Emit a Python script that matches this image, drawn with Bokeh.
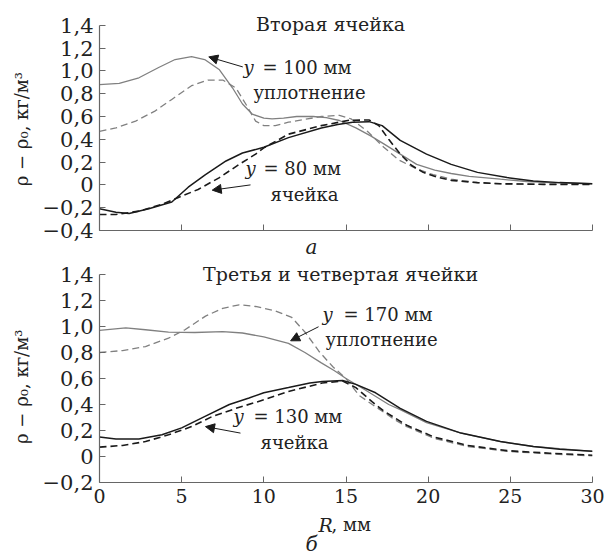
from bokeh.plotting import figure
from bokeh.models import Range1d, FixedTicker, Label, Arrow, NormalHead, Title
from bokeh.layouts import column
from bokeh.embed import file_html
from bokeh.resources import INLINE

# ---------------- data ----------------
x_ticks = [0, 5, 10, 15, 20, 25, 30]
x_tick_labels = ["0", "5", "10", "15", "20", "25", "30"]

ya_ticks = [-0.4, -0.2, 0.0, 0.2, 0.4, 0.6, 0.8, 1.0, 1.2, 1.4]
ya_tick_labels = ["\u22120,4", "\u22120,2", "0", "0,2", "0,4", "0,6", "0,8", "1,0", "1,2", "1,4"]
yb_ticks = [-0.2, 0.0, 0.2, 0.4, 0.6, 0.8, 1.0, 1.2, 1.4]
yb_tick_labels = ["\u22120,2", "0", "0,2", "0,4", "0,6", "0,8", "1,0", "1,2", "1,4"]

# panel a: y = 100 mm (compaction), solid and dashed
a100_solid_R = [0, 1.2, 2.4, 3.6, 4.6, 5.6, 6.4, 7.3, 8.1, 8.7, 9.3, 10, 10.5, 11.2, 12, 13, 13.8, 14.6,
                15.6, 16.5, 17.3, 18.3, 19.3, 20.4, 21.4, 22.5, 24.4, 26, 27.4, 30]
a100_solid_v = [0.88, 0.89, 0.94, 1.03, 1.10, 1.125, 1.10, 1.01, 0.85, 0.71, 0.62, 0.585, 0.58, 0.585, 0.60,
                0.60, 0.59, 0.565, 0.50, 0.43, 0.36, 0.27, 0.18, 0.13, 0.10, 0.075, 0.05, 0.03, 0.02, 0.01]
a100_dash_R = [0, 1.0, 2.2, 3.4, 4.4, 5.6, 6.6, 7.5, 8.3, 8.9, 9.5, 10, 10.7, 11.5, 12.5, 13.5, 14.6, 15.3,
               16.3, 17.3, 18.2, 19.3, 20.3, 21.4, 23, 24.4, 27, 30]
a100_dash_v = [0.47, 0.50, 0.56, 0.65, 0.75, 0.87, 0.92, 0.92, 0.85, 0.71, 0.56, 0.52, 0.52, 0.55, 0.575,
               0.60, 0.61, 0.58, 0.47, 0.33, 0.22, 0.14, 0.09, 0.05, 0.02, 0.01, 0.005, 0.005]
# panel a: y = 80 mm (cell), solid and dashed
a80_solid_R = [0, 1.0, 1.8, 3.0, 4.4, 5.4, 6.45, 7.7, 8.7, 10, 11.5, 13.5, 14.5, 15.4, 16.4, 17.2, 18.3,
               19.9, 21.4, 23, 24.8, 26.4, 28, 30]
a80_solid_v = [-0.21, -0.24, -0.25, -0.21, -0.15, -0.02, 0.09, 0.21, 0.28, 0.33, 0.415, 0.50, 0.53, 0.55,
               0.555, 0.52, 0.39, 0.27, 0.18, 0.11, 0.064, 0.035, 0.02, 0.01]
a80_dash_R = [0, 1.0, 2.4, 3.8, 4.8, 6.0, 7.3, 8.5, 9.5, 10, 11.5, 13.5, 15.2, 16.4, 17.0, 17.6, 18.3, 19.0,
              19.7, 20.5, 21.4, 23, 24.4, 27, 30]
a80_dash_v = [-0.26, -0.26, -0.23, -0.17, -0.11, -0.04, 0.064, 0.18, 0.27, 0.325, 0.445, 0.52, 0.567, 0.57,
              0.52, 0.40, 0.27, 0.17, 0.11, 0.07, 0.04, 0.02, 0.01, 0.005, 0.005]

# panel b: y = 170 mm (compaction), solid and dashed
b170_solid_R = [0, 1.6, 2.8, 4.2, 5.8, 7.5, 8.7, 10, 11.5, 12.5, 13.5, 14.3, 15, 16.2, 17.6, 18.3, 19.9,
                22, 24.4, 26.4, 28, 30]
b170_solid_v = [0.97, 0.99, 0.975, 0.957, 0.954, 0.96, 0.95, 0.92, 0.87, 0.80, 0.72, 0.66, 0.60, 0.51, 0.40,
                0.36, 0.26, 0.18, 0.115, 0.077, 0.06, 0.04]
b170_dash_R = [0, 1.4, 2.8, 4.2, 5.2, 6.45, 7.5, 8.5, 9.5, 10.7, 11.7, 12.55, 13.35, 14.2, 15, 15.8, 16.6,
               17.3, 18.0, 18.7, 20.35, 22.4, 24.8, 27.4, 30]
b170_dash_v = [0.80, 0.815, 0.846, 0.91, 0.975, 1.08, 1.14, 1.167, 1.154, 1.12, 1.07, 0.95, 0.81, 0.69, 0.60,
               0.47, 0.40, 0.34, 0.28, 0.23, 0.14, 0.077, 0.04, 0.02, 0.005]
# panel b: y = 130 mm (cell), solid and dashed
b130_solid_R = [0, 1.0, 2.4, 3.8, 5.0, 6.45, 7.9, 9.1, 10, 11.5, 12.8, 13.55, 14.8, 15.6, 16.8, 18.3, 19.9,
                22, 24.4, 26.4, 28, 30]
b130_solid_v = [0.15, 0.134, 0.134, 0.167, 0.22, 0.31, 0.40, 0.45, 0.49, 0.53, 0.565, 0.577, 0.585, 0.555,
                0.49, 0.37, 0.27, 0.18, 0.115, 0.077, 0.055, 0.04]
b130_dash_R = [0, 1.4, 2.8, 4.2, 5.6, 6.9, 8.3, 10, 11.5, 13.55, 14.8, 15.6, 16.6, 17.3, 18.7, 20.35, 22.4,
               24.8, 27.4, 30]
b130_dash_v = [0.072, 0.085, 0.115, 0.167, 0.23, 0.31, 0.37, 0.436, 0.50, 0.565, 0.58, 0.53, 0.42, 0.35,
               0.24, 0.15, 0.085, 0.045, 0.025, 0.01]

# ---------------- styling ----------------
FONT = "DejaVu Serif"
TXT = "#222222"
GRAY = "#808080"
DARK = "#1a1a1a"
AXIS = "#666666"
DASH = "7 4"
W = 611
YLABEL = "\u03c1 \u2212 \u03c1\u2080,  \u043a\u0433/\u043c\u00b3"


def make_panel(height, border_top, border_bottom, yr, ybounds, yticks, ylabels, show_xlabels, pad):
    p = figure(width=W, height=height, x_range=Range1d(0, 30), y_range=Range1d(*yr),
               output_backend="svg", toolbar_location=None,
               min_border_left=99, min_border_right=19,
               min_border_top=border_top, min_border_bottom=border_bottom)
    p.outline_line_color = None
    p.grid.visible = False
    p.background_fill_color = "white"
    for ax in (p.xaxis[0], p.yaxis[0]):
        ax.axis_line_color = AXIS
        ax.axis_line_width = 1.2
        ax.major_tick_line_color = AXIS
        ax.major_tick_in = 6
        ax.major_tick_out = 0
        ax.minor_tick_line_color = None
        ax.major_label_text_font = FONT
        ax.major_label_text_color = TXT
    if show_xlabels:
        p.xaxis.ticker = FixedTicker(ticks=x_ticks)
        p.xaxis.major_label_overrides = {t: l for t, l in zip(x_ticks, x_tick_labels)}
        p.xaxis.major_label_standoff = 6
        p.xaxis.major_label_text_font_size = "19px"
    else:
        # tick marks only, no labels: use minor ticks
        p.xaxis.ticker = FixedTicker(ticks=[], minor_ticks=x_ticks)
        p.xaxis.minor_tick_line_color = AXIS
        p.xaxis.minor_tick_in = 6
        p.xaxis.minor_tick_out = 0
        p.xaxis.major_label_standoff = 0
    p.yaxis.bounds = ybounds
    p.yaxis.ticker = FixedTicker(ticks=yticks)
    p.yaxis.major_label_overrides = {t: l for t, l in zip(yticks, ylabels)}
    p.yaxis.major_label_standoff = 6
    p.yaxis.major_label_text_font_size = "21px"
    p.yaxis.axis_label = YLABEL + pad
    p.yaxis.axis_label_text_font = FONT
    p.yaxis.axis_label_text_font_style = "normal"
    p.yaxis.axis_label_text_font_size = "18px"
    p.yaxis.axis_label_text_color = TXT
    p.yaxis.axis_label_standoff = 8
    return p


def lbl(p, x, y, text, size="18px", style="normal", align="left"):
    p.add_layout(Label(x=x, y=y, text=text, text_font=FONT, text_font_size=size,
                       text_font_style=style, text_color=TXT, text_align=align,
                       text_baseline="middle"))


def arrow(p, xs, ys, xe, ye):
    p.add_layout(Arrow(end=NormalHead(size=9, fill_color=DARK, line_color=DARK, line_width=1),
                       x_start=xs, y_start=ys, x_end=xe, y_end=ye,
                       line_color=DARK, line_width=1))


# ---------------- panel a ----------------
p1 = make_panel(262, 10, 32, (-0.4, 1.53), (-0.4, 1.4), ya_ticks, ya_tick_labels, False, "\u2007")
p1.line(a100_solid_R, a100_solid_v, line_color=GRAY, line_width=1.3)
p1.line(a100_dash_R, a100_dash_v, line_color=GRAY, line_width=1.3, line_dash=DASH)
p1.line(a80_solid_R, a80_solid_v, line_color=DARK, line_width=1.5)
p1.line(a80_dash_R, a80_dash_v, line_color=DARK, line_width=1.6, line_dash=DASH)

lbl(p1, 14.06, 1.41, "\u0412\u0442\u043e\u0440\u0430\u044f \u044f\u0447\u0435\u0439\u043a\u0430",
    size="19px", align="center")
lbl(p1, 8.76, 1.03, "y", style="italic")
lbl(p1, 9.92, 1.03, "= 100 \u043c\u043c")
lbl(p1, 9.37, 0.815, "\u0443\u043f\u043b\u043e\u0442\u043d\u0435\u043d\u0438\u0435")
lbl(p1, 8.89, 0.14, "y", style="italic")
lbl(p1, 9.98, 0.14, "= 80 \u043c\u043c")
lbl(p1, 10.41, -0.08, "\u044f\u0447\u0435\u0439\u043a\u0430")
arrow(p1, 8.72, 1.035, 6.65, 1.123)
arrow(p1, 9.19, 0.0, 6.86, -0.046)
p1.add_layout(Title(text="\u0430", align="left", offset=206, standoff=6, vertical_align="middle",
                    text_font=FONT, text_font_size="20px", text_font_style="italic",
                    text_color=TXT), "below")

# ---------------- panel b ----------------
p2 = make_panel(250, 0, 30, (-0.2, 1.4923), (-0.2, 1.4), yb_ticks, yb_tick_labels, True, "\u2007\u2007")
p2.line(b170_solid_R, b170_solid_v, line_color=GRAY, line_width=1.3)
p2.line(b170_dash_R, b170_dash_v, line_color=GRAY, line_width=1.3, line_dash=DASH)
p2.line(b130_solid_R, b130_solid_v, line_color=DARK, line_width=1.5)
p2.line(b130_dash_R, b130_dash_v, line_color=DARK, line_width=1.6, line_dash=DASH)

lbl(p2, 14.67, 1.40, "\u0422\u0440\u0435\u0442\u044c\u044f \u0438 \u0447\u0435\u0442\u0432\u0435\u0440\u0442\u0430\u044f \u044f\u0447\u0435\u0439\u043a\u0438",
    size="19px", align="center")
lbl(p2, 13.57, 1.09, "y", style="italic")
lbl(p2, 14.85, 1.09, "= 170 \u043c\u043c")
lbl(p2, 13.76, 0.898, "\u0443\u043f\u043b\u043e\u0442\u043d\u0435\u043d\u0438\u0435")
lbl(p2, 8.16, 0.305, "y", style="italic")
lbl(p2, 9.37, 0.305, "= 130 \u043c\u043c")
lbl(p2, 9.8, 0.105, "\u044f\u0447\u0435\u0439\u043a\u0430")
arrow(p2, 13.33, 0.998, 11.63, 0.89)
arrow(p2, 8.58, 0.18, 6.45, 0.23)

# ---------------- bottom caption strip ----------------
p3 = figure(width=W, height=42, x_range=Range1d(0, 30), y_range=Range1d(0, 42),
            output_backend="svg", toolbar_location=None,
            x_axis_location=None, y_axis_location=None,
            min_border_left=99, min_border_right=19, min_border_top=0, min_border_bottom=0)
p3.outline_line_color = None
p3.grid.visible = False
lbl(p3, 13.33, 30, "R", size="19px", style="italic")
lbl(p3, 14.12, 30, ",  \u043c\u043c", size="18px")
lbl(p3, 12.9, 11, "\u0431", size="20px", style="italic", align="center")

layout = column(p1, p2, p3)
open("out.html", "w").write(file_html(layout, INLINE))
